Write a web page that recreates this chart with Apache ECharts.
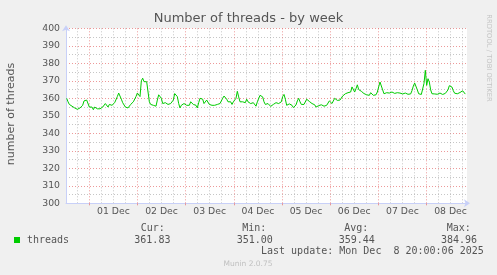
<!DOCTYPE html>
<html><head><meta charset="utf-8">
<script src="https://cdn.jsdelivr.net/npm/echarts@6/dist/echarts.min.js"></script>
<style>html,body{margin:0;padding:0;background:#f0f0f0}#c{width:497px;height:275px}</style>
</head><body><div id="c"></div>
<script>
const titleText = 'Number of threads - by week';
const yAxisTitle = 'number of threads';
const watermark = 'RRDTOOL / TOBI OETIKER';
const seriesName = 'threads';
const statNames = ['Cur:', 'Min:', 'Avg:', 'Max:'];
const statValues = ['361.83', '351.00', '359.44', '384.96'];
const lastUpdate = 'Last update: Mon Dec  8 20:00:06 2025';
const versionText = 'Munin 2.0.75';
const dayLabels = ['01 Dec', '02 Dec', '03 Dec', '04 Dec', '05 Dec', '06 Dec', '07 Dec', '08 Dec'];
// time in hours relative to 01 Dec 00:00
const xMin = -11.6, xMax = 188.2;
const startHour = -11.26;
const stepHours = 0.6643;
const yMin = 300, yMax = 400, yStep = 10;
const threads = [
360,358,356.5,355.5,355.5,356,354.5,354,353.7,354,354.5,354,356,358.5,359,359,358,355,355.5,355,
353.5,355,355.5,354,355,354,354,355,356,357,356.5,355,356.5,356.5,356,356.5,357.5,358.5,361,363,
362.5,359.5,357.5,356.5,355,354,354.5,355,356.5,357,358,359,361,363,362,361,370,371.5,369.5,369.5,
369.5,369,358,356.5,356.5,356,356.5,355.5,359,362,362.5,360,357,357,357.5,358,
356.5,357,357,358,359,362.7,362,361,357,354.5,356,355,357,358,356,357,356,358,357.5,356.5,
355.5,356,354.5,357.5,360,360,359.5,357,356.5,359,359.5,356.5,357.5,356,357,356,355.5,356.5,356,357,
358,360,361.3,360.8,359.5,358,357,358,356.5,358,357,360,364,360.8,358,357,358,358,357.5,359.5,
358,358,357,356,357.5,356.5,355.5,358,359,361.7,362.3,360.8,358,356.5,356,357,
356,355.4,356.5,356.5,357,357.5,356.5,357,356.5,358,361,362.2,359.5,356,356.5,356.8,356.5,356,354.7,355.3,
356.2,358.5,360,358,356.5,356.8,356.5,356.8,359.5,360,358.2,357.5,357,356.5,356.3,355,355.5,355.8,355.5,356.3,
355.8,355.5,355.8,356,357,358.5,358.8,357,357,360,360.8,358.8,358.8,359,359,361.3,362.3,362.6,363,363.2,
362.7,363.6,366.5,366,363.6,365.5,367.7,365,364.3,364,363.2,362.7,362.5,362,361,
361.7,363.2,362.7,361.7,362.7,362,363.6,366.5,369.3,368.5,364.8,362.6,362.3,363.2,363.2,363,364,363.6,363.2,362.8,
362.8,363.2,363.3,363,362.5,362.5,362,363,362.6,362.3,362.2,362.5,364.4,367,368.7,367.8,364.8,362.6,361.8,362.2,
362.3,368.5,376,367.4,371.2,369.3,364.8,362.6,362.6,362.5,362.2,362.3,362.6,363,362.2,362.2,363.2,362.8,362.6,364.8,
367.2,367.6,366.4,364.3,362.9,363,362.6,363,363.3,363,364.3,364,362.4
];

const dayBounds = dayLabels.map((d, i) => i * 24);
const noons = dayLabels.map((d, i) => i * 24 + 12);
const minorBounds = [];
for (let h = -6; h < xMax; h += 6) { if (h % 24 !== 0) minorBounds.push(h); }
const points = threads.map((v, i) => [startHour + i * stepHours, v]);

const majorColor = 'rgba(230,110,110,0.7)';
const minorColor = 'rgba(160,160,160,0.6)';
const axisColor = '#c8d0f8';
const textColor = '#555555';
const sans = 'DejaVu Sans';
const mono = 'DejaVu Sans Mono';

const chart = echarts.init(document.getElementById('c'), null, {renderer: 'canvas'});

const graphics = [
  {type: 'text', x: 248.5, y: 19, style: {text: titleText, font: '13px ' + sans, fill: textColor, align: 'center', verticalAlign: 'middle'}},
  {type: 'text', x: 11.5, y: 114, rotation: Math.PI / 2, style: {text: yAxisTitle, font: '11px ' + sans, fill: textColor, align: 'center', verticalAlign: 'middle'}},
  {type: 'text', x: 489, y: 58, rotation: -Math.PI / 2, style: {text: watermark, font: '6.8px ' + sans, fill: '#c4c4c4', align: 'center', verticalAlign: 'middle'}},
  {type: 'rect', shape: {x: 14, y: 237, width: 6, height: 6}, style: {fill: '#00cc00'}},
  {type: 'text', x: 27, y: 240, style: {text: seriesName, font: '10px ' + mono, fill: textColor, align: 'left', verticalAlign: 'middle'}},
  {type: 'text', x: 261, y: 251.8, style: {text: lastUpdate, font: '10px ' + mono, fill: textColor, align: 'left', verticalAlign: 'middle'}},
  {type: 'text', x: 248, y: 264.3, style: {text: versionText, font: '7.5px ' + sans, fill: '#c0c0c0', align: 'center', verticalAlign: 'middle'}}
];
const statNameX = [140.7, 242.3, 344.3, 446.7];
const statValX = [134.3, 236.7, 338.7, 441];
statNames.forEach((n, i) => {
  graphics.push({type: 'text', x: statNameX[i], y: 228, style: {text: n, font: '10px ' + mono, fill: textColor, align: 'left', verticalAlign: 'middle'}});
  graphics.push({type: 'text', x: statValX[i], y: 240, style: {text: statValues[i], font: '10px ' + mono, fill: textColor, align: 'left', verticalAlign: 'middle'}});
});

chart.setOption({
  animation: false,
  backgroundColor: '#f0f0f0',
  grid: {left: 66, top: 28.3, width: 401, height: 175, show: true, backgroundColor: '#ffffff', borderWidth: 0, containLabel: false},
  xAxis: [{
    type: 'value', min: xMin, max: xMax,
    axisLine: {show: true, onZero: false, lineStyle: {color: axisColor, width: 1}, symbol: ['none', 'arrow'], symbolSize: [6, 6], symbolOffset: [0, 3]},
    axisTick: {show: true, customValues: dayBounds, length: 2, lineStyle: {color: majorColor}},
    axisLabel: {customValues: noons, formatter: v => dayLabels[Math.round((v - 12) / 24)], color: textColor, fontSize: 9.3, fontFamily: sans, margin: 4},
    splitLine: {show: true, lineStyle: {color: majorColor, type: [1, 2], width: 1}}
  }, {
    type: 'value', min: xMin, max: xMax, position: 'bottom',
    axisLine: {show: false}, axisLabel: {show: false},
    axisTick: {show: false, customValues: minorBounds},
    splitLine: {show: true, lineStyle: {color: minorColor, type: [1, 2], width: 1}}
  }],
  yAxis: {
    type: 'value', min: yMin, max: yMax, interval: yStep,
    axisLine: {show: true, onZero: false, lineStyle: {color: axisColor, width: 1}, symbol: ['none', 'arrow'], symbolSize: [6, 6], symbolOffset: [0, 3]},
    axisTick: {show: false},
    axisLabel: {color: textColor, fontSize: 9.3, fontFamily: sans, margin: 6},
    splitLine: {show: true, lineStyle: {color: majorColor, type: [1, 2], width: 1}},
    minorTick: {show: false, splitNumber: 2},
    minorSplitLine: {show: true, lineStyle: {color: minorColor, type: [1, 2], width: 1}}
  },
  series: [{
    name: seriesName, type: 'line', data: points, xAxisIndex: 0,
    showSymbol: false, symbol: 'none', smooth: false,
    lineStyle: {color: '#00cc00', width: 1}, z: 5
  }],
  graphic: graphics
});
</script></body></html>
